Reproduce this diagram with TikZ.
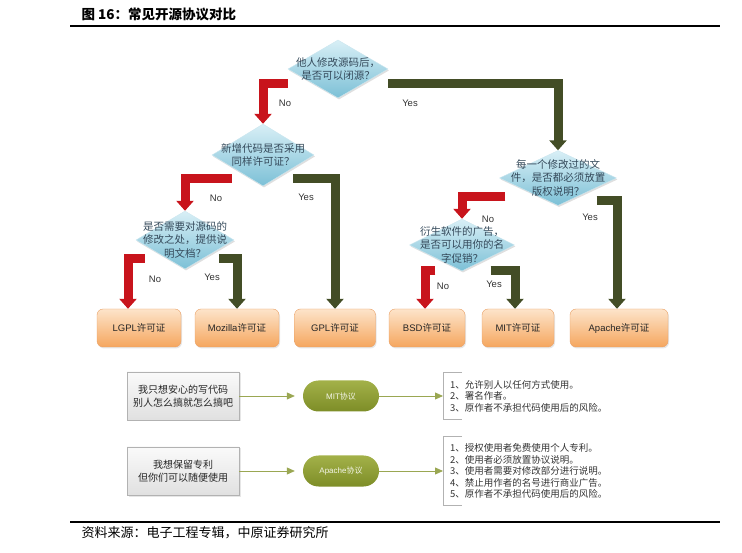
\documentclass[tikz,border=0pt]{standalone}
\usepackage{fontspec}
\setmainfont{Liberation Sans}
\newfontfamily\cjk{Noto Sans CJK SC}
\usepackage{tikz}
\usetikzlibrary{arrows.meta,positioning,shapes.geometric,shadows}
\newcommand{\zh}[1]{{\cjk #1}}
\definecolor{noRed}{HTML}{C8141C}
\definecolor{yesDark}{HTML}{434D26}
\definecolor{qTop}{HTML}{D8EFF6}
\definecolor{qBot}{HTML}{7CC0D6}
\definecolor{qText}{HTML}{34495A}
\definecolor{licTop}{HTML}{FDE4CA}
\definecolor{licBot}{HTML}{F5A65E}
\definecolor{licEdge}{HTML}{E9A066}
\definecolor{protoTop}{HTML}{A3B149}
\definecolor{protoBot}{HTML}{7D8D27}
\definecolor{linkGreen}{HTML}{9AA752}

\begin{document}
\begin{tikzpicture}[x=1pt, y=1pt,
  every node/.style={font=\fontsize{9.5}{11}\selectfont, text=black!85},
  dia/.style={diamond, draw=white!60!qBot, thin, inner sep=0pt,
    top color=qTop, bottom color=qBot,
    drop shadow={opacity=0.25, shadow xshift=1pt, shadow yshift=-1.5pt}},
  dtext/.style={font=\cjk\fontsize{10.5}{13.5}\selectfont, align=center,
    text=qText, inner sep=0pt},
  lic/.style={rectangle, rounded corners=6pt, draw=licEdge,
    top color=licTop, bottom color=licBot, minimum height=38pt, inner sep=2pt,
    drop shadow={opacity=0.2, shadow xshift=1pt, shadow yshift=-1.5pt}},
  noarr/.style={line width=9pt, noRed, -{Triangle[width=17pt,length=10pt]}},
  yesarr/.style={line width=9pt, yesDark, -{Triangle[width=17pt,length=10pt]}},
  lbl/.style={font=\fontsize{9.5}{11}\selectfont, text=black!80},
  wish/.style={rectangle, draw=black!30, top color=black!2, bottom color=black!12,
    minimum width=112pt, minimum height=48pt, align=center,
    font=\cjk\fontsize{10}{12.5}\selectfont,
    drop shadow={opacity=0.2, shadow xshift=1.5pt, shadow yshift=-1.5pt}},
  proto/.style={rectangle, rounded corners=15.5pt, top color=protoTop,
    bottom color=protoBot, minimum width=76pt, minimum height=31pt,
    font=\fontsize{8}{10}\selectfont, text=white!88!protoTop},
  note/.style={anchor=west, align=left, inner xsep=7pt, inner ysep=7pt,
    font=\cjk\fontsize{9.5}{11.5}\selectfont, text=black!80},
  brk/.style={draw=black!30, line width=0.8pt},
  link/.style={draw=linkGreen, line width=0.8pt, -{Triangle[width=7pt,length=8pt]}}
]
\useasboundingbox (0,0) rectangle (742,552);

% title and source
\node[anchor=west, font=\cjk\bfseries\fontsize{13.5}{16}\selectfont, text=black]
  (title) at (78,538) {图 16：常见开源协议对比};
\draw[line width=2.5pt] (70,526) -- (720,526);
\draw[line width=2pt] (70,30) -- (720,30);
\node[anchor=west, font=\cjk\fontsize{13}{15}\selectfont, text=black]
  (src) at (78,19) {资料来源：电子工程专辑，中原证券研究所};

% questions
\node[dia, minimum width=100pt, minimum height=58pt] (q1) at (338,483) {};
\node[dtext] (q1t) at (q1) {他人修改源码后，\\是否可以闭源？};
\node[dia, minimum width=102pt, minimum height=62pt] (q2) at (263,397) {};
\node[dtext] (q2t) at (q2) {新增代码是否采用\\同样许可证？};
\node[dia, minimum width=98pt, minimum height=58pt] (q3) at (185,312) {};
\node[dtext] (q3t) at (q3) {是否需要对源码的\\修改之处，提供说\\明文档？};
\node[dia, minimum width=117pt, minimum height=55pt] (q4) at (558,374) {};
\node[dtext] (q4t) at (q4) {每一个修改过的文\\件，是否都必须放置\\版权说明？};
\node[dia, minimum width=105pt, minimum height=52pt] (q5) at (462,307) {};
\node[dtext] (q5t) at (q5) {衍生软件的广告，\\是否可以用你的名\\字促销？};

% licences
\node[lic, minimum width=84pt] (lgpl) at (139,224) {LGPL\zh{许可证}};
\node[lic, minimum width=84pt] (moz) at (237,224) {Mozilla\zh{许可证}};
\node[lic, minimum width=81pt] (gpl) at (335,224) {GPL\zh{许可证}};
\node[lic, minimum width=76pt] (bsd) at (427,224) {BSD\zh{许可证}};
\node[lic, minimum width=72pt] (mit) at (518,224) {MIT\zh{许可证}};
\node[lic, minimum width=98pt] (apa) at (619,224) {Apache\zh{许可证}};

% answers
\draw[noarr] ([yshift=-15pt]q1.west) -| (q2.north);
\draw[yesarr] ([yshift=-15pt]q1.east) -| (q4.north);
\draw[noarr] ([shift={(20pt,-23.5pt)}]q2.west) -| (q3.north);
\draw[yesarr] ([shift={(-21pt,-23.5pt)}]q2.east) -| (gpl.north);
\draw[noarr] ([shift={(9pt,-18.5pt)}]q3.west) -| ([xshift=-11pt]lgpl.north);
\draw[yesarr] ([shift={(-15pt,-18.5pt)}]q3.east) -| (moz.north);
\draw[noarr] ([shift={(6pt,-19pt)}]q4.west) -| (q5.north);
\draw[yesarr] ([shift={(-20pt,-23pt)}]q4.east) -| ([xshift=-2pt]apa.north);
\draw[noarr] ([shift={(26pt,-26pt)}]q5.west) -| ([xshift=-2pt]bsd.north);
\draw[yesarr] ([shift={(-24pt,-26pt)}]q5.east) -| ([xshift=-3pt]mit.north);

\node[lbl] (no1) at (285,449) {No};
\node[lbl] (yes1) at (410,449) {Yes};
\node[lbl] (no2) at (216,354) {No};
\node[lbl] (yes2) at (306,355) {Yes};
\node[lbl] (no3) at (155,273) {No};
\node[lbl] (yes3) at (212,275) {Yes};
\node[lbl] (no4) at (488,333) {No};
\node[lbl] (yes4) at (590,335) {Yes};
\node[lbl] (no5) at (443,266) {No};
\node[lbl] (yes5) at (494,268) {Yes};

% two wishes
\node[wish] (w1) at (183,156) {我只想安心的写代码\\别人怎么搞就怎么搞吧};
\node[proto] (p1) at (341,156) {MIT\zh{协议}};
\node[note] (n1) at (443,156) {1、允许别人以任何方式使用。\\2、署名作者。\\3、原作者不承担代码使用后的风险。};
\draw[brk] ([xshift=19pt]n1.north west) -| (n1.south west) -- ([xshift=19pt]n1.south west);
\draw[link, shorten >=8pt] (w1) -- (p1);
\draw[link] (p1) -- (n1.west);

\node[wish] (w2) at (183,81) {我想保留专利\\但你们可以随便使用};
\node[proto] (p2) at (341,81) {Apache\zh{协议}};
\node[note] (n2) at (443,81) {1、授权使用者免费使用个人专利。\\2、使用者必须放置协议说明。\\3、使用者需要对修改部分进行说明。\\4、禁止用作者的名号进行商业广告。\\5、原作者不承担代码使用后的风险。};
\draw[brk] ([xshift=19pt]n2.north west) -| (n2.south west) -- ([xshift=19pt]n2.south west);
\draw[link, shorten >=8pt] (w2) -- (p2);
\draw[link] (p2) -- (n2.west);
\end{tikzpicture}
\end{document}
